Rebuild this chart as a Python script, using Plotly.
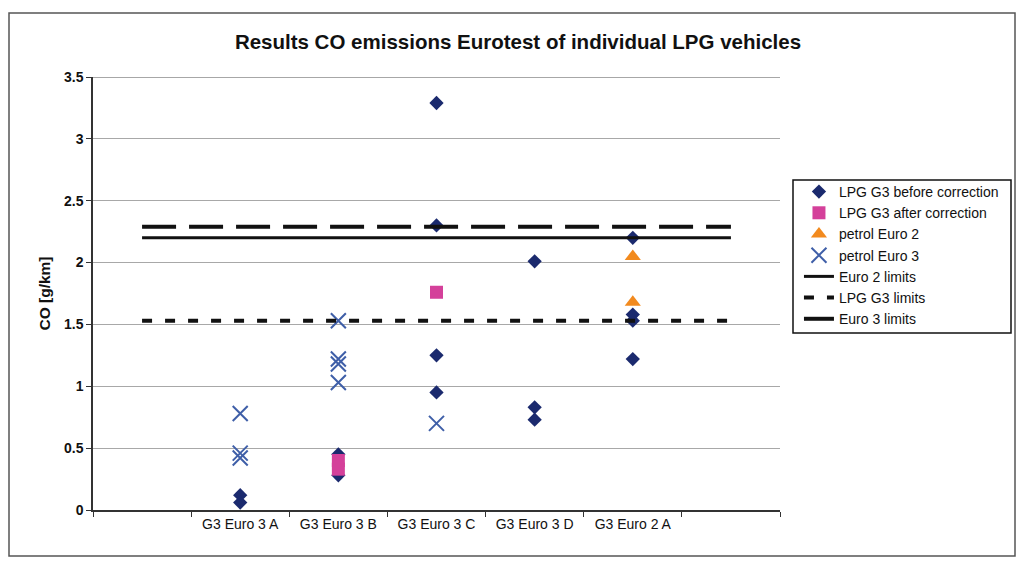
import plotly.graph_objects as go

# ---------------- data ----------------
categories = [" ", "G3 Euro 3 A", "G3 Euro 3 B", "G3 Euro 3 C", "G3 Euro 3 D", "G3 Euro 2 A", "  "]

lpg_before_x = ["G3 Euro 3 A", "G3 Euro 3 A",
                "G3 Euro 3 B", "G3 Euro 3 B",
                "G3 Euro 3 C", "G3 Euro 3 C", "G3 Euro 3 C", "G3 Euro 3 C",
                "G3 Euro 3 D", "G3 Euro 3 D", "G3 Euro 3 D",
                "G3 Euro 2 A", "G3 Euro 2 A", "G3 Euro 2 A", "G3 Euro 2 A"]
lpg_before_y = [0.12, 0.06,
                0.45, 0.28,
                3.29, 2.30, 1.25, 0.95,
                2.01, 0.83, 0.73,
                2.20, 1.58, 1.53, 1.22]

lpg_after_x = ["G3 Euro 3 B", "G3 Euro 3 B", "G3 Euro 3 C"]
lpg_after_y = [0.40, 0.33, 1.76]

petrol_e2_x = ["G3 Euro 2 A", "G3 Euro 2 A"]
petrol_e2_y = [2.05, 1.68]

petrol_e3_x = ["G3 Euro 3 A", "G3 Euro 3 A", "G3 Euro 3 A",
               "G3 Euro 3 B", "G3 Euro 3 B", "G3 Euro 3 B", "G3 Euro 3 B",
               "G3 Euro 3 C"]
petrol_e3_y = [0.78, 0.46, 0.42,
               1.53, 1.22, 1.18, 1.03,
               0.70]

euro2_limit = [2.2] * 7
lpg_g3_limit = [1.53] * 7
euro3_limit = [2.29] * 7

y_ticks = [0, 0.5, 1, 1.5, 2, 2.5, 3, 3.5]
y_max = 3.5

FONT = "Liberation Sans, Arial, sans-serif"

# ---------------- figure ----------------
fig = go.Figure()

fig.add_trace(go.Scatter(
    x=lpg_before_x, y=lpg_before_y, mode="markers", name="LPG G3 before correction",
    marker=dict(symbol="diamond", size=11, color="#1B2A6E", line=dict(width=0))))
fig.add_trace(go.Scatter(
    x=lpg_after_x, y=lpg_after_y, mode="markers", name="LPG G3 after correction",
    marker=dict(symbol="square", size=13, color="#D4409A", line=dict(width=0))))
fig.add_trace(go.Scatter(
    x=petrol_e2_x, y=petrol_e2_y, mode="markers", name="petrol Euro 2",
    marker=dict(symbol="triangle-up", size=14, color="#F28A1E", line=dict(width=0))))
fig.add_trace(go.Scatter(
    x=petrol_e3_x, y=petrol_e3_y, mode="markers", name="petrol Euro 3",
    marker=dict(symbol="x-thin", size=15, color="#3F5FA8",
                line=dict(width=2, color="#3F5FA8"))))
fig.add_trace(go.Scatter(
    x=categories, y=euro2_limit, mode="lines", name="Euro 2 limits",
    line=dict(color="#111111", width=3)))
fig.add_trace(go.Scatter(
    x=categories, y=lpg_g3_limit, mode="lines", name="LPG G3 limits",
    line=dict(color="#111111", width=4, dash="10px,13px")))
fig.add_trace(go.Scatter(
    x=categories, y=euro3_limit, mode="lines", name="Euro 3 limits",
    line=dict(color="#111111", width=4, dash="34px,13px")))

# page has an 8px body margin; figure kept inside the viewport.
# plot area at page x 93..780, y 77..510
fig.update_layout(
    width=1009, height=549,
    margin=dict(l=85, r=237, t=69, b=47),
    paper_bgcolor="white", plot_bgcolor="white",
    font=dict(family=FONT, color="#111111"),
    title=dict(text="Results CO emissions Eurotest of individual LPG vehicles",
               font=dict(size=20.5, family=FONT, weight="bold", color="#111111"),
               xref="paper", x=0.6186, xanchor="center",
               yref="container", y=0.938, yanchor="middle"),
    showlegend=True,
    legend=dict(x=1.0276, y=0.7714, xanchor="left", yanchor="top",
                borderwidth=0, bgcolor="rgba(255,255,255,0)",
                font=dict(size=14, family=FONT, color="#111111"),
                tracegroupgap=0),
    xaxis=dict(type="category", categoryorder="array", categoryarray=categories,
               range=[-0.5, 6.5], tickson="boundaries", ticks="outside", ticklen=5,
               tickcolor="#333333", showline=True, linecolor="#333333", linewidth=1.5,
               showgrid=False, zeroline=False,
               tickfont=dict(size=14, family=FONT, color="#111111")),
    yaxis=dict(range=[0, y_max], tickvals=y_ticks, ticks="outside", ticklen=5,
               tickcolor="#333333", showline=True, linecolor="#333333", linewidth=1.5,
               showgrid=True, gridcolor="#A8A8A8", gridwidth=1, zeroline=False,
               tickfont=dict(size=14, family=FONT, weight="bold", color="#111111"),
               title=dict(text="CO [g/km]", standoff=10,
                          font=dict(size=15.5, family=FONT, weight="bold", color="#111111"))),
    shapes=[
        dict(type="line", xref="paper", yref="y", x0=0, x1=1, y0=y_max, y1=y_max,
             line=dict(color="#8A8A8A", width=1.5), layer="below"),
        dict(type="rect", xref="paper", yref="paper",
             x0=(9 - 93) / 687, x1=(1015 - 93) / 687,
             y0=(510 - 556) / 433, y1=(510 - 13) / 433,
             line=dict(color="#555555", width=1.5), fillcolor="rgba(0,0,0,0)",
             layer="below"),
        dict(type="rect", xref="paper", yref="paper",
             x0=(793 - 93) / 687, x1=(1011 - 93) / 687,
             y0=(510 - 333) / 433, y1=(510 - 180) / 433,
             line=dict(color="#111111", width=1.5), fillcolor="white",
             layer="below"),
    ],
)

fig.write_html("out.html")
